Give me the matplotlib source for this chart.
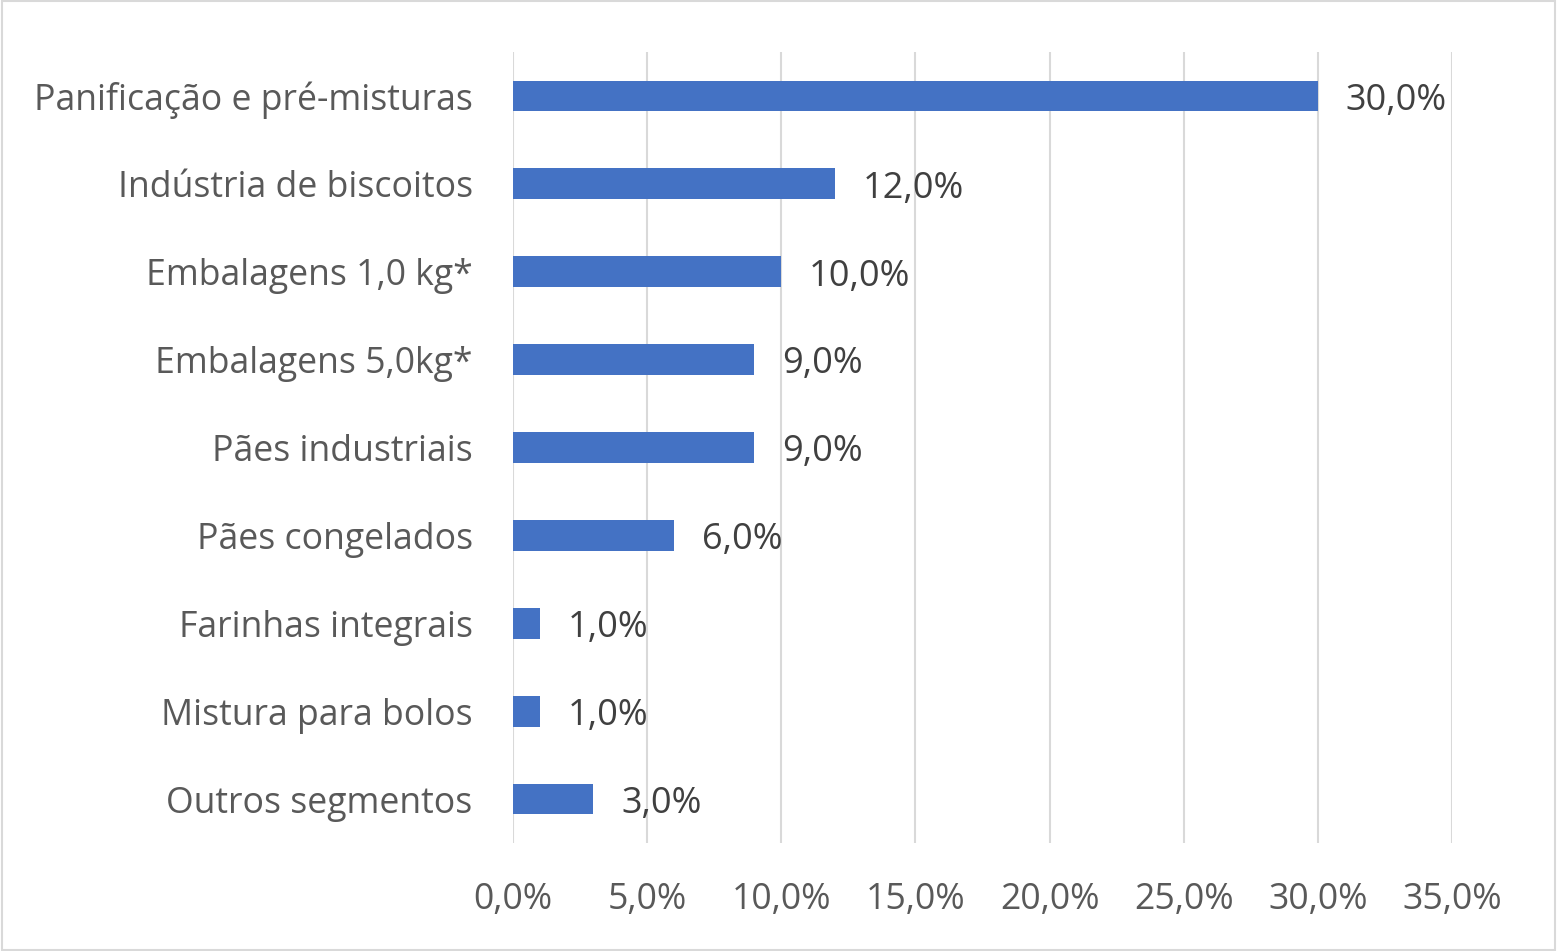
import matplotlib
matplotlib.use("Agg")
import matplotlib.pyplot as plt
from matplotlib.patches import Rectangle

categories = ["Panificação e pré-misturas", "Indústria de biscoitos", "Embalagens 1,0 kg*",
              "Embalagens 5,0kg*", "Pães industriais", "Pães congelados",
              "Farinhas integrais", "Mistura para bolos", "Outros segmentos"]
values = [30.0, 12.0, 10.0, 9.0, 9.0, 6.0, 1.0, 1.0, 3.0]
xticks = [0, 5, 10, 15, 20, 25, 30, 35]
xtick_labels = ["0,0%", "5,0%", "10,0%", "15,0%", "20,0%", "25,0%", "30,0%", "35,0%"]

plt.rcParams['font.family'] = ['Open Sans', 'DejaVu Sans']

fig = plt.figure(figsize=(15.57, 9.51), dpi=100)
ax = fig.add_axes([513/1557, 1-843/951, (1452-513)/1557, (843-52)/951])

n = len(categories)
ypos = list(range(n))
ax.barh(ypos, values, height=0.35, color="#4472C4", zorder=3)
ax.set_ylim(n - 0.5, -0.5)
ax.set_xlim(0, 35)
ax.set_xticks(xticks)
ax.set_xticklabels(xtick_labels)
ax.set_yticks(ypos)
ax.set_yticklabels(categories)
ax.grid(axis="x", color="#D9D9D9", linewidth=1.5, zorder=0)
ax.tick_params(axis="both", length=0, labelsize=25.7, colors="#595959")
ax.tick_params(axis="x", pad=28)
ax.tick_params(axis="y", pad=29)
for s in ax.spines.values():
    s.set_visible(False)

for y, v in zip(ypos, values):
    ax.annotate(f"{v:.1f}%".replace(".", ","), xy=(v, y), xytext=(20, -3.5),
                textcoords="offset points", va="center", ha="left",
                fontsize=26, color="#404040")

fig.patches.append(Rectangle((0.001, 0.001), 0.998, 0.998, transform=fig.transFigure,
                             fill=False, edgecolor="#D9D9D9", linewidth=1.5))

fig.savefig("out.png", dpi=100)
